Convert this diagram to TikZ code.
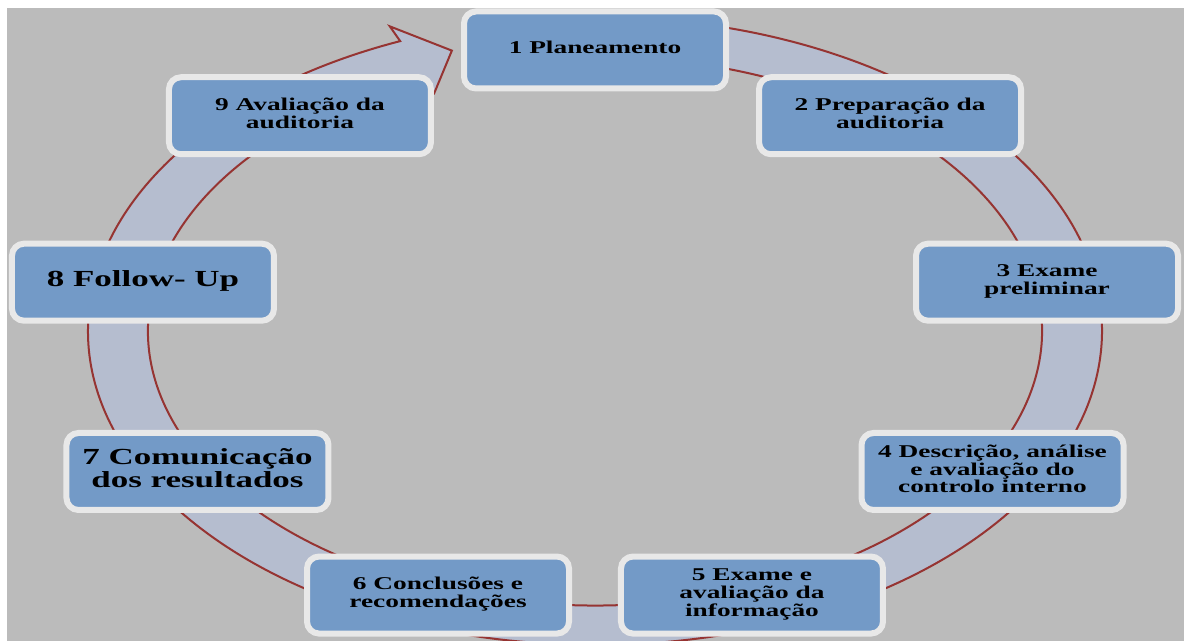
\documentclass[tikz,border=0pt]{standalone}
\usepackage{fontspec}
\setmainfont{Liberation Serif}
\usepackage{graphicx}
\usetikzlibrary{positioning,calc}
\definecolor{bggray}{RGB}{187,187,187}
\definecolor{stageblue}{RGB}{115,154,199}
\definecolor{stageedge}{RGB}{232,232,232}
\definecolor{bandfill}{RGB}{181,189,207}
\definecolor{bandline}{RGB}{150,52,50}
\newcommand{\stagetext}[1]{\scalebox{1.52}[1]{\begin{tabular}{@{}c@{}}#1\end{tabular}}}
\tikzset{
    stage/.style={
        rectangle,
        rounded corners=6pt,
        line width=3pt,
        draw=stageedge,
        fill=stageblue,
        minimum width=131pt,
        minimum height=38.5pt,
        font=\bfseries\fontsize{9}{8.5}\selectfont,
    },
    stage-big/.style={
        stage,
        font=\bfseries\fontsize{11.5}{11}\selectfont,
    },
    cycle-band/.style={
        draw=bandline,
        fill=bandfill,
        line width=1pt,
    },
}

\begin{document}
\begin{tikzpicture}[x=0.5pt,y=0.5pt]
    \useasboundingbox (0,0) rectangle (1184,641);
    \fill[bggray] (7,0) rectangle (1184,633);
    \begin{scope}[shift={(595,310)}]
        % arrow running round the stages
        \draw[cycle-band] (85:507 and 314) arc[start angle=85,end angle=-247.4,x radius=507,y radius=314]
            -- (-247.4:534 and 330) -- (-252.5:476 and 294) -- (-247.4:418 and 258)
            -- (-247.4:447 and 274.5) arc[start angle=-247.4,end angle=85,x radius=447,y radius=274.5] -- cycle;
        \node [stage] (S1) at (90:459 and 281) {\stagetext{1 Planeamento}};
        \node [stage] (S2) at (50:459 and 281) {\stagetext{2 Preparação da\\auditoria}};
        \node [stage] (S3) at (10:459 and 281) {\stagetext{3 Exame\\preliminar}};
        \node [stage] (S4) at (-30:459 and 281) {\stagetext{4 Descrição, análise\\e avaliação do\\controlo interno}};
        \node [stage] (S5) at (-70:459 and 281) {\stagetext{5 Exame e\\avaliação da\\informação}};
        \node [stage] (S6) at (-110:459 and 281) {\stagetext{6 Conclusões e\\recomendações}};
        \node [stage-big] (S7) at (-150:459 and 281) {\stagetext{7 Comunicação\\dos resultados}};
        \node [stage-big] (S8) at (170:459 and 281) {\stagetext{8 Follow- Up}};
        \node [stage] (S9) at (130:459 and 281) {\stagetext{9 Avaliação da\\auditoria}};
    \end{scope}
\end{tikzpicture}
\end{document}
